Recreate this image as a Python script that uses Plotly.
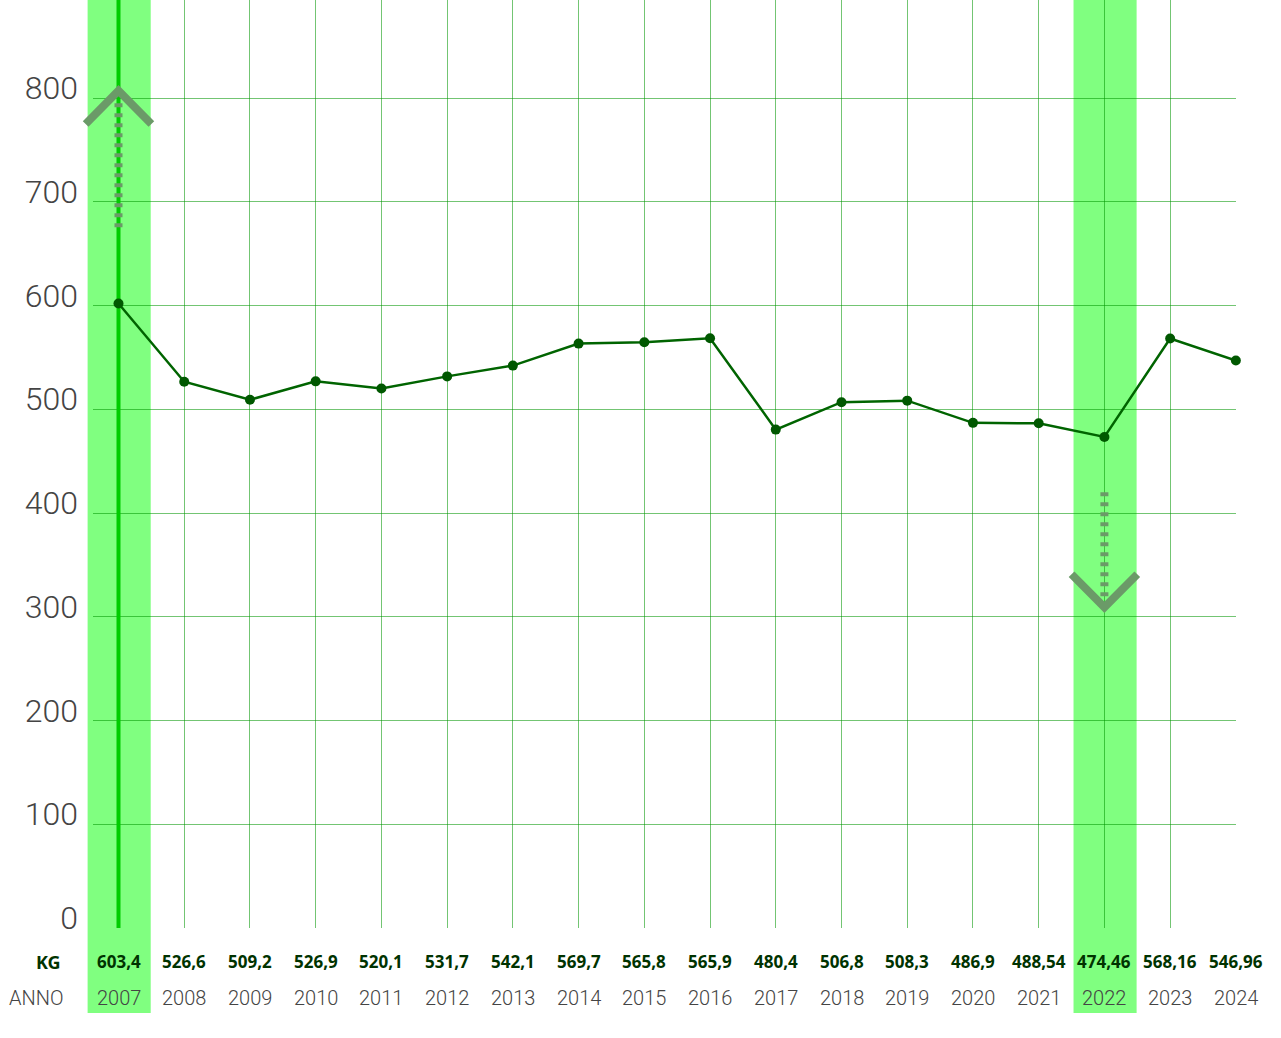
"""Kg per anno, 2007-2024, con evidenza del massimo (2007) e del minimo (2022)."""

import plotly.graph_objects as go

YEARS = list(range(2007, 2025))
# plotted positions (some sit slightly off their labels)
KG = [601.9, 526.6, 509.2, 526.9, 520.1, 531.7, 542.1, 563.3, 564.6, 568.5,
      480.4, 506.8, 508.3, 486.9, 486.5, 473.3, 568.16, 546.96]
KG_LABELS = ["603,4", "526,6", "509,2", "526,9", "520,1", "531,7", "542,1",
             "569,7", "565,8", "565,9", "480,4", "506,8", "508,3", "486,9",
             "488,54", "474,46", "568,16", "546,96"]
Y_TICKS = [0, 100, 200, 300, 400, 500, 600, 700, 800]
MAX_YEAR = 2007
MIN_YEAR = 2022

X_RANGE = [2006.612, 2024.002]
Y_RANGE = [0, 894.5]

BAND = "#80FF80"
LINE = "#006400"
MARKER = "#005800"
GRID = "rgba(0,150,0,0.55)"
ARROW = "#6B9A68"
HIGHLIGHT = "#00CC00"
LABEL_GREEN = "#003300"
GREY_TEXT = "#444444"
LIGHT_FONT = "Roboto"


def px_x(year):
    """Year -> paper x, so shapes may run past the plot edge unclipped."""
    return (year - X_RANGE[0]) / (X_RANGE[1] - X_RANGE[0])


fig = go.Figure()
# bright marker line on the max year, under the data line
fig.add_trace(
    go.Scatter(
        x=[MAX_YEAR, MAX_YEAR], y=Y_RANGE, mode="lines",
        line={"color": HIGHLIGHT, "width": 4}, hoverinfo="skip",
    )
)
fig.add_trace(
    go.Scatter(
        x=YEARS,
        y=KG,
        mode="lines+markers",
        line={"color": LINE, "width": 2.5},
        marker={"color": MARKER, "size": 10},
        cliponaxis=False,
        hoverinfo="x+y",
    )
)

# highlighted years: light band running below the axis labels
for year in (MAX_YEAR, MIN_YEAR):
    fig.add_shape(
        type="rect", xref="paper", yref="paper",
        x0=px_x(year - 0.47), x1=px_x(year + 0.49), y0=-0.0916, y1=1,
        fillcolor=BAND, line_width=0, layer="below",
    )

# up arrow on the max, down arrow on the min
fig.add_shape(
    type="line", x0=MAX_YEAR, x1=MAX_YEAR, y0=795, y1=671,
    line={"color": ARROW, "width": 8, "dash": "4px,6px"}, layer="above",
)
fig.add_shape(
    type="path", xref="paper", yref="y",
    path=f"M {px_x(MAX_YEAR - 0.5)},775 L {px_x(MAX_YEAR)},807 L {px_x(MAX_YEAR + 0.5)},775",
    line={"color": ARROW, "width": 8}, layer="above",
)
fig.add_shape(
    type="line", x0=MIN_YEAR, x1=MIN_YEAR, y0=420, y1=316,
    line={"color": ARROW, "width": 8, "dash": "4px,6px"}, layer="above",
)
fig.add_shape(
    type="path", xref="paper", yref="y",
    path=f"M {px_x(MIN_YEAR - 0.5)},341 L {px_x(MIN_YEAR)},309 L {px_x(MIN_YEAR + 0.5)},341",
    line={"color": ARROW, "width": 8}, layer="above",
)

# value and year rows under the axis
for year, label in zip(YEARS, KG_LABELS):
    fig.add_annotation(
        x=year, y=-0.0366, xref="x", yref="paper", text=f"<b>{label}</b>",
        xanchor="center", yanchor="middle", showarrow=False,
        font={"family": "Noto Sans", "size": 17, "color": LABEL_GREEN},
    )
    fig.add_annotation(
        x=year, y=-0.0754, xref="x", yref="paper", text=str(year),
        xanchor="center", yanchor="middle", showarrow=False,
        font={"family": LIGHT_FONT, "size": 20, "color": GREY_TEXT, "weight": 300},
    )
fig.add_annotation(
    x=-0.0385, y=-0.0366, xref="paper", yref="paper", text="<b>KG</b>",
    xanchor="center", yanchor="middle", showarrow=False,
    font={"family": "Noto Sans", "size": 18, "color": LABEL_GREEN},
)
fig.add_annotation(
    x=-0.0503, y=-0.0754, xref="paper", yref="paper", text="ANNO",
    xanchor="center", yanchor="middle", showarrow=False,
    font={"family": LIGHT_FONT, "size": 20, "color": GREY_TEXT, "weight": 300},
)

fig.update_xaxes(
    range=X_RANGE,
    tickmode="array", tickvals=YEARS, showticklabels=False,
    showgrid=True, gridcolor=GRID, gridwidth=1,
    zeroline=False, showline=False, fixedrange=True,
)
fig.update_yaxes(
    range=Y_RANGE,
    tickmode="array", tickvals=Y_TICKS,
    ticks="", ticklabelstandoff=14, ticklabelshift=-10,
    tickfont={"family": LIGHT_FONT, "size": 32, "color": GREY_TEXT, "weight": 300},
    showgrid=True, gridcolor=GRID, gridwidth=1,
    zeroline=False, showline=False, fixedrange=True,
)
fig.update_layout(
    width=1281,
    height=1038,
    margin={"l": 93, "r": 45, "t": 0, "b": 110},
    paper_bgcolor="white",
    plot_bgcolor="white",
    showlegend=False,
)

# the page's default 8px body margin would shift the whole chart
fig.write_html(
    "out.html",
    config={"displayModeBar": False},
    post_script="document.body.style.margin = '0';",
)
